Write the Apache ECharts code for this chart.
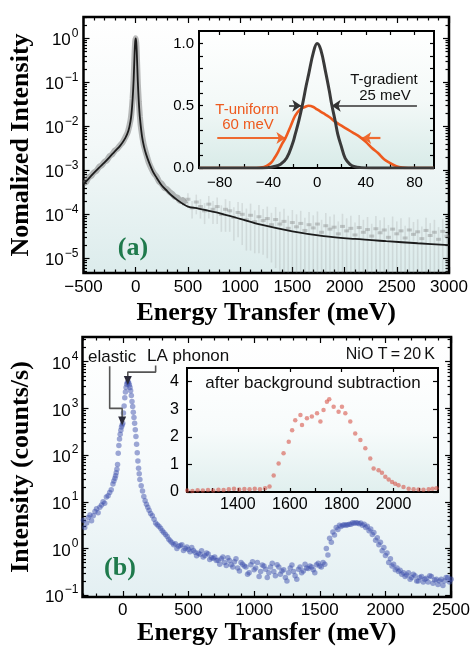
<!DOCTYPE html>
<html><head><meta charset="utf-8">
<script src="https://cdn.jsdelivr.net/npm/echarts@6/dist/echarts.min.js"></script>
<style>html,body{margin:0;padding:0;background:#fff}#c{width:473px;height:648px}</style>
</head><body><div id="c"></div>
<script>
// ---------- Panel (a): main log plot ----------
const fitE = [-500,-450,-400,-350,-300,-250,-200,-150,-100,-70,-50,-40,-30,-20,-10,-5,0,5,10,20,30,40,60,80,100,130,165,200,250,300,350,400,450,500,600,700,800,1000,1200,1500,1800,2100,2400,2700,3000];
const fitI = [4.8e-4,6.5e-4,8.7e-4,1.15e-3,1.5e-3,2.0e-3,2.7e-3,3.6e-3,5.4e-3,7.9e-3,1.3e-2,2.0e-2,4.0e-2,0.11,0.5,0.83,1.0,0.83,0.5,0.107,0.035,0.016,6.0e-3,3.4e-3,2.3e-3,1.45e-3,9.3e-4,6.8e-4,4.5e-4,3.4e-4,2.6e-4,2.1e-4,1.74e-4,1.5e-4,1.35e-4,1.2e-4,1.07e-4,7.9e-5,5.8e-5,4.1e-5,3.2e-5,2.75e-5,2.45e-5,2.2e-5,2.0e-5];
const nearE = [-500,-475,-450,-425,-400,-375,-350,-325,-300,-275,-250,-225,-200,-175,-150,-125,-100,-75,-50,-40,-30,-20,-10,-5,0,5,10,20,30,40,50,75,100,125,150,175,200,225,250,275,300,325,350,375,400,425,450,475];
const nearI = [5.0e-4,5.4e-4,6.9e-4,7.5e-4,9.0e-4,9.8e-4,1.2e-3,1.3e-3,1.55e-3,1.7e-3,2.1e-3,2.3e-3,2.8e-3,3.1e-3,3.7e-3,4.3e-3,5.6e-3,7.5e-3,1.35e-2,2.1e-2,4.2e-2,0.12,0.52,0.85,1.0,0.8,0.48,0.1,0.036,0.017,9.5e-3,4.0e-3,2.4e-3,1.5e-3,1.1e-3,8.5e-4,7.2e-4,5.5e-4,4.9e-4,4.0e-4,3.7e-4,3.2e-4,2.9e-4,2.5e-4,2.4e-4,2.0e-4,2.1e-4,1.7e-4];
const tailE = [500,540,580,620,660,700,740,780,820,860,900,940,980,1020,1060,1100,1140,1180,1220,1260,1300,1340,1380,1420,1460,1500,1540,1580,1620,1660,1700,1740,1780,1820,1860,1900,1940,1980,2020,2060,2100,2140,2180,2220,2260,2300,2340,2380,2420,2460,2500,2540,2580,2620,2660,2700,2740,2780,2820,2860,2900,2940,2980];
const tailI = [2.2e-4,1.4e-4,1.9e-4,1.5e-4,1.2e-4,1.7e-4,1.3e-4,1.5e-4,1.0e-4,1.3e-4,1.2e-4,8.5e-5,1.1e-4,
  1.0e-4,7.5e-5,9.5e-5,6.8e-5,8.8e-5,7.2e-5,8.0e-5,5.8e-5,7.6e-5,6.0e-5,6.9e-5,4.8e-5,6.5e-5,
  5.2e-5,6.2e-5,4.3e-5,5.8e-5,4.9e-5,6.0e-5,3.9e-5,5.5e-5,4.6e-5,5.1e-5,3.6e-5,5.3e-5,4.2e-5,
  4.8e-5,3.4e-5,5.0e-5,3.9e-5,4.5e-5,3.2e-5,4.7e-5,3.8e-5,4.4e-5,3.0e-5,4.6e-5,3.6e-5,4.2e-5,
  2.9e-5,4.4e-5,3.5e-5,4.0e-5,2.8e-5,4.3e-5,3.3e-5,3.9e-5,2.7e-5,4.1e-5,3.2e-5];
const tailErr = [0.8e-4,0.6e-4,0.9e-4,0.7e-4,0.6e-4,0.9e-4,0.7e-4,0.9e-4,0.6e-4,0.9e-4,0.8e-4,0.6e-4,0.8e-4,
  0.8e-4,0.6e-4,0.8e-4,0.55e-4,0.75e-4,0.6e-4,0.7e-4,0.5e-4,0.7e-4,0.55e-4,0.65e-4,0.45e-4,0.6e-4,
  0.48e-4,0.58e-4,0.4e-4,0.55e-4,0.46e-4,0.56e-4,0.36e-4,0.52e-4,0.43e-4,0.48e-4,0.33e-4,0.5e-4,0.39e-4,
  0.45e-4,0.31e-4,0.47e-4,0.36e-4,0.42e-4,0.29e-4,0.44e-4,0.35e-4,0.41e-4,0.27e-4,0.43e-4,0.33e-4,0.39e-4,
  0.26e-4,0.41e-4,0.32e-4,0.37e-4,0.25e-4,0.40e-4,0.30e-4,0.36e-4,0.24e-4,0.38e-4,0.29e-4];
const aXTickLabels = [-500,0,500,1000,1500,2000,2500,3000];
const aYTickLabels = [-5,-4,-3,-2,-1,0]; // exponents

// ---------- Panel (a) inset ----------
const gradE = [-97,-60,-45,-40,-36,-30,-25,-20,-18,-15,-12,-9,-7,-3,0,3,7,10,12,15,17,20,23,27,31,36,45,60,96];
const gradV = [0,0,0,0.003,0.01,0.03,0.08,0.2,0.27,0.38,0.51,0.66,0.75,0.93,1.0,0.95,0.77,0.62,0.51,0.37,0.27,0.17,0.08,0.03,0.01,0.003,0,0,0];
const unifE = [-97,-60,-50,-45,-42,-38,-35,-32,-29,-26,-22,-18,-14,-10,-7,-3,0,5,10,15,20,25,30,35,40,45,50,55,60,65,70,75,85,96];
const unifV = [0,0,0,0.005,0.015,0.04,0.08,0.13,0.19,0.24,0.33,0.42,0.47,0.49,0.5,0.49,0.47,0.44,0.41,0.37,0.34,0.31,0.28,0.25,0.21,0.16,0.12,0.07,0.04,0.015,0.003,0,0,0];
const insetAXLabels = [-80,-40,0,40,80];
const insetAYLabels = [0,0.5,1.0];

// ---------- Panel (b): main log plot ----------
const blueE = [-300,-275,-250,-225,-200,-175,-150,-125,-100,-75,
  -60,-50,-40,-30,-20,-10,0,10,20,30,
  40,50,60,70,80,90,100,110,120,130,
  140,160,180,200,225,250,275,300,325,350,
  375,400,425,450,475,500,525,550,575,600,
  625,650,675,700,725,750,775,800,825,850,
  875,900,925,950,975,1000,1025,1050,1075,1100,
  1125,1150,1175,1200,1225,1250,1275,1300,1325,1350,
  1375,1400,1425,1450,1475,1500,1525,1550,1575,1600,
  1625,1650,1675,1700,1725,1750,1775,1800,1825,1850,
  1875,1900,1925,1950,1975,2000,2025,2050,2075,2100,
  2125,2150,2175,2200,2225,2250,2275,2300,2325,2350,
  2375,2400,2425,2450,2475,2500];
const blueI = [4.0,3.5,5.2,5.0,7.1,7.6,10,12.6,15.8,24,
  32,42,63,160,280,400,480,1120,2240,3310,
  3720,3160,2400,1410,830,480,250,112,52,30,
  22,13,8.9,6.6,5.0,3.5,3.0,2.4,2.0,1.58,
  1.32,1.26,1.12,1.2,1.0,0.95,1.05,0.83,0.79,0.89,
  0.71,0.76,0.63,0.66,0.56,0.6,0.5,0.63,0.45,0.52,
  0.38,0.5,0.42,0.28,0.45,0.35,0.5,0.32,0.42,0.24,
  0.4,0.32,0.45,0.28,0.35,0.2,0.38,0.32,0.22,0.4,
  0.33,0.38,0.42,0.35,0.45,0.42,0.5,1.0,1.66,2.24,
  2.8,3.16,3.16,3.16,3.3,3.55,3.55,3.4,3.16,2.8,
  2.4,2.0,1.5,1.2,0.89,0.71,0.5,0.42,0.35,0.32,
  0.28,0.25,0.3,0.24,0.26,0.2,0.25,0.22,0.19,0.25,
  0.21,0.17,0.22,0.2,0.24,0.22];
const blue2E = [-290,-262,-238,-212,-188,-162,-138,-112,-88,-68,-55,-45,-35,-25,-15,-5,5,15,25,35,45,55,65,75,85,95,105,115,125,150,170,190,212,238,262,288,312,338,362,388,412,438,462,488,512,538,562,588,612,638,662,688,712,738,762,788,812,838,862,888,912,938,962,988,1012,1038,1062,1088,1112,1138,1162,1188,1212,1238,1262,1288,1312,1338,1362,1388,1412,1438,1462,1488,1512,1538,1562,1588,1612,1638,1662,1688,1712,1738,1762,1788,1812,1838,1862,1888,1912,1938,1962,1988,2012,2038,2062,2088,2112,2138,2162,2188,2212,2238,2262,2288,2312,2338,2362,2388,2412,2438,2462,2488];
const blue2I = [2.8,4.6,3.9,6.2,5.8,8.5,9.3,13.5,18,28,36,50,110,220,340,440,800,1700,2800,3600,3500,2800,1900,1100,640,350,170,75,40,17,10.5,7.6,5.6,4.2,3.2,2.7,2.2,1.8,1.45,1.2,1.0,1.15,0.9,1.08,0.85,0.9,0.7,0.75,0.66,0.8,0.58,0.62,0.55,0.46,0.66,0.43,0.55,0.4,0.6,0.33,0.46,0.4,0.3,0.52,0.38,0.25,0.44,0.36,0.3,0.48,0.26,0.4,0.33,0.24,0.3,0.44,0.26,0.36,0.3,0.46,0.37,0.4,0.3,0.48,0.4,0.46,0.72,1.35,1.95,2.55,2.95,3.2,3.2,3.3,3.45,3.5,3.5,3.3,3.0,2.6,2.2,1.7,1.35,1.05,0.8,0.6,0.46,0.38,0.34,0.3,0.27,0.22,0.28,0.2,0.24,0.19,0.23,0.26,0.18,0.22,0.2,0.16,0.24,0.19,0.21,0.18];
const elasticPath = [[-100,8000],[-100,1000],[-5,1000],[-5,540]];
const laPath = [[250,8300],[250,6000],[38,6000],[38,3950]];
const bXTickLabels = [0,500,1000,1500,2000,2500];
const bYTickLabels = [-1,0,1,2,3,4];

// ---------- Panel (b) inset ----------
const redE = [1205,1225,1245,1265,1285,1305,1325,1345,1365,1385,1405,1425,1445,1465,1485,1505,1522,1538,1557,1576,1596,1609,1621,1641,1647,1666,1685,1705,1718,1730,1743,1752,1769,1788,1801,1814,1833,1852,1872,1891,1910,1923,1942,1955,1968,1981,1994,2006,2019,2038,2058,2077,2096,2115,2135,2150,2165];
const redI = [0.05,0.04,0.06,0.05,0.07,0.05,0.08,0.07,0.1,0.12,0.09,0.11,0.1,0.12,0.1,0.14,0.2,0.6,1.03,1.4,1.82,2.24,2.6,2.79,2.43,2.67,2.73,2.85,2.55,2.97,3.27,3.36,3.09,2.91,3.09,2.85,2.55,2.12,1.88,1.58,1.21,0.85,0.79,0.7,0.55,0.45,0.36,0.3,0.24,0.18,0.12,0.1,0.09,0.08,0.1,0.12,0.14];
const insetBXLabels = [1400,1600,1800,2000];
const insetBYLabels = [0,1,2,3,4];

// ---------- helpers ----------
const SANS = 'Liberation Sans', SERIF = 'Liberation Serif';
const lg = Math.log10;
const minus = v => (v < 0 ? '\u2212' + (-v) : '' + v);
const logFmt = v => '{b|10}{s|' + minus(Math.round(v)) + '}';
const logRich = {
  b: {fontSize: 17, fontFamily: SANS, color: '#000', lineHeight: 22, verticalAlign: 'bottom'},
  s: {fontSize: 12, fontFamily: SANS, color: '#000', lineHeight: 22, verticalAlign: 'top', padding: [0, 0, 0, 1]}
};
function range(a, b, step) { const r = []; for (let v = a; v <= b + 1e-9; v += step) r.push(Math.round(v * 1000) / 1000); return r; }
function logMinors(lo, hi) {
  const r = [];
  for (let n = Math.floor(lo) - 1; n <= Math.ceil(hi); n++) for (let k = 2; k <= 9; k++) { const v = n + lg(k); if (v > lo && v < hi) r.push(v); }
  return r;
}
const xAxes = [], yAxes = [];
function axisObj(g, pos, r, ticks, len, lab, z) {
  const o = {type: 'value', gridIndex: g, position: pos, min: r[0], max: r[1], z: z, offset: 0,
    axisLine: {show: false, onZero: false}, splitLine: {show: false}, minorTick: {show: false},
    axisTick: {show: ticks.length > 0, inside: true, length: len, customValues: ticks, lineStyle: {color: '#000', width: 1.2}},
    axisLabel: {show: false}};
  if (lab) {
    o.axisLabel = {show: true, customValues: lab.values, formatter: lab.fmt, margin: lab.margin, color: '#000',
      fontFamily: SANS, fontSize: lab.size, rich: lab.rich};
    if (lab.name) {
      o.name = lab.name; o.nameLocation = 'middle'; o.nameGap = lab.nameGap;
      o.nameTextStyle = {fontFamily: SERIF, fontWeight: 'bold', fontSize: 26, color: '#000'};
    }
  }
  return o;
}
function frame(g, xr, yr, xt, yt, xl, yl, z) {
  const xi = xAxes.length, yi = yAxes.length;
  xAxes.push(axisObj(g, 'bottom', xr, xt.maj, xt.len || 6, xl, z));
  if (xt.min) xAxes.push(axisObj(g, 'bottom', xr, xt.min, 3.5, null, z));
  xAxes.push(axisObj(g, 'top', xr, xt.top || xt.maj, xt.len || 6, null, z));
  if (xt.min && !xt.top) xAxes.push(axisObj(g, 'top', xr, xt.min, 3.5, null, z));
  yAxes.push(axisObj(g, 'left', yr, yt.maj, yt.len || 6, yl, z));
  if (yt.min) yAxes.push(axisObj(g, 'left', yr, yt.min, 3.5, null, z));
  yAxes.push(axisObj(g, 'right', yr, yt.maj, yt.len || 6, null, z));
  if (yt.min) yAxes.push(axisObj(g, 'right', yr, yt.min, 3.5, null, z));
  return {xi, yi};
}
const bg = (c1, c2, c3) => ({type: 'linear', x: 0, y: 0, x2: 0, y2: 1,
  colorStops: [{offset: 0, color: c1}, {offset: 0.5, color: c2}, {offset: 1, color: c3}]});

const grids = [
  {left: 82, top: 17, width: 367, height: 256, show: true, borderColor: '#000', borderWidth: 2.5, backgroundColor: bg('#ffffff', '#f3f8f8', '#dcecec'), z: 0},
  {left: 199, top: 31, width: 235, height: 137, show: true, borderColor: '#000', borderWidth: 2, backgroundColor: bg('#ffffff', '#f4f9f8', '#d8ebe8'), z: 5},
  {left: 79, top: 337, width: 374, height: 260, show: true, borderColor: '#000', borderWidth: 2.5, backgroundColor: bg('#ffffff', '#f6fafb', '#e3eff2'), z: 0},
  {left: 187, top: 368, width: 251, height: 124, show: true, borderColor: '#000', borderWidth: 2, backgroundColor: bg('#ffffff', '#f7fbfb', '#e0efee'), z: 5}
];

const aYR = [-5.334, 0.484];
const A = frame(0, [-500, 3000], aYR,
  {maj: range(-500, 3000, 500), min: range(-500, 3000, 100).filter(v => v % 500 !== 0)},
  {maj: range(-5, 0, 1), min: logMinors(aYR[0], aYR[1])},
  {values: aXTickLabels, fmt: minus, margin: 6, size: 17, name: 'Energy Transfer (meV)', nameGap: 27},
  {values: aYTickLabels, fmt: logFmt, margin: 5, size: 17, rich: logRich, name: 'Nomalized Intensity', nameGap: 48}, 1);
const AI = frame(1, [-97, 96], [0, 1.1],
  {maj: range(-80, 80, 20), len: 4},
  {maj: range(0, 1.0, 0.1), len: 4},
  {values: insetAXLabels, fmt: minus, margin: 7, size: 15},
  {values: insetAYLabels, fmt: v => v.toFixed(1), margin: 5, size: 15}, 6);
const bYR = [-1.04, 4.53];
const B = frame(2, [-307, 2500], bYR,
  {maj: range(0, 2500, 500), min: range(-300, 2500, 100).filter(v => v % 500 !== 0)},
  {maj: range(-1, 4, 1), min: logMinors(bYR[0], bYR[1])},
  {values: bXTickLabels, fmt: minus, margin: 5, size: 17, name: 'Energy Transfer (meV)', nameGap: 23},
  {values: bYTickLabels, fmt: logFmt, margin: 4, size: 17, rich: logRich, name: 'Intensity (counts/s)', nameGap: 45}, 1);
const BI = frame(3, [1204, 2171], [0, 4.49],
  {maj: range(1300, 2100, 100), top: range(1400, 2000, 200), len: 4},
  {maj: range(0, 4, 1), len: 5},
  {values: insetBXLabels, fmt: minus, margin: 5, size: 16},
  {values: insetBYLabels, fmt: v => '' + v, margin: 8, size: 16}, 6);

const toLog = (E, I) => E.map((e, i) => [e, lg(I[i])]);
const pairs = (E, V) => E.map((e, i) => [e, V[i]]);
const arrowPath = (P, color, z, xi, yi) => ({
  type: 'line', xAxisIndex: xi, yAxisIndex: yi, z: z, silent: true,
  data: P.map((p, i) => i === P.length - 1
    ? {value: [p[0], lg(p[1])], symbol: 'triangle', symbolRotate: 180, symbolSize: [8, 9], itemStyle: {color: '#2a2a3a'}}
    : {value: [p[0], lg(p[1])], symbol: 'none'}),
  lineStyle: {color: color, width: 1.6}, showSymbol: true, symbol: 'none'
});
const blueStyle = {color: 'rgba(60,78,172,0.62)'};

const series = [
  {type: 'line', xAxisIndex: A.xi, yAxisIndex: A.yi, data: toLog(nearE, nearI), showSymbol: false, smooth: 0.2,
    lineStyle: {color: 'rgba(105,105,105,0.45)', width: 6}, z: 2},
  {type: 'custom', xAxisIndex: A.xi, yAxisIndex: A.yi, z: 2,
    data: tailE.map((e, i) => [e, tailI[i] - tailErr[i] > 4.7e-6 ? lg(tailI[i] - tailErr[i]) : aYR[0], lg(tailI[i] + tailErr[i])]),
    encode: {x: 0, y: [1, 2]},
    renderItem: (params, api) => {
      const p1 = api.coord([api.value(0), api.value(1)]), p2 = api.coord([api.value(0), api.value(2)]);
      return {type: 'line', shape: {x1: p1[0], y1: p1[1], x2: p2[0], y2: p2[1]}, style: {stroke: 'rgba(135,135,135,0.2)', lineWidth: 1.6}};
    }},
  {type: 'scatter', xAxisIndex: A.xi, yAxisIndex: A.yi, data: toLog(tailE, tailI), symbol: 'rect', symbolSize: [5, 3],
    itemStyle: {color: 'rgba(120,120,120,0.45)'}, z: 3},
  {type: 'line', xAxisIndex: A.xi, yAxisIndex: A.yi, data: toLog(fitE, fitI), showSymbol: false, smooth: 0.3,
    lineStyle: {color: '#1c1c1c', width: 1.8}, z: 4},
  {type: 'line', xAxisIndex: AI.xi, yAxisIndex: AI.yi, data: pairs(unifE, unifV), showSymbol: false, smooth: 0.4,
    lineStyle: {color: '#ee5a1e', width: 2.6}, z: 7,
    markLine: {silent: true, symbol: ['none', 'arrow'], symbolSize: 9, label: {show: false},
      lineStyle: {color: '#ee6a30', width: 2.2, type: 'solid'},
      data: [[{coord: [-82, 0.24]}, {coord: [-26, 0.24]}], [{coord: [52, 0.24]}, {coord: [37, 0.24]}]]}},
  {type: 'line', xAxisIndex: AI.xi, yAxisIndex: AI.yi, data: pairs(gradE, gradV), showSymbol: false, smooth: 0.4,
    lineStyle: {color: '#3a3a3a', width: 3}, z: 8,
    markLine: {silent: true, symbol: ['none', 'arrow'], symbolSize: 9, label: {show: false},
      lineStyle: {color: '#333', width: 1.6, type: 'solid'},
      data: [[{coord: [-23, 0.5]}, {coord: [-13, 0.5]}], [{coord: [82, 0.5]}, {coord: [12, 0.5]}]]}},
  {type: 'scatter', xAxisIndex: B.xi, yAxisIndex: B.yi, data: toLog(blueE, blueI), symbol: 'circle', symbolSize: 5.5,
    itemStyle: blueStyle, z: 3},
  {type: 'scatter', xAxisIndex: B.xi, yAxisIndex: B.yi, data: toLog(blue2E, blue2I), symbol: 'circle', symbolSize: 5.5,
    itemStyle: blueStyle, z: 3},
  arrowPath(elasticPath, '#555', 4, B.xi, B.yi),
  arrowPath(laPath, '#555', 4, B.xi, B.yi),
  {type: 'scatter', xAxisIndex: BI.xi, yAxisIndex: BI.yi, data: pairs(redE, redI), symbol: 'circle', symbolSize: 4.5,
    itemStyle: {color: 'rgba(214,78,66,0.72)'}, z: 7}
];

const txt = (x, y, text, o) => Object.assign({type: 'text', x: x, y: y, z: 100,
  style: Object.assign({text: text, fill: '#111', font: '15px "Liberation Sans"', align: 'center', verticalAlign: 'middle'}, o || {})});
const graphics = [
  txt(133, 248, '(a)', {fill: '#1f7a4c', font: 'bold 26px "Liberation Serif"'}),
  txt(120, 568, '(b)', {fill: '#1f7a4c', font: 'bold 26px "Liberation Serif"'}),
  txt(384, 80, 'T-gradient'),
  txt(385, 96, '25 meV'),
  txt(247, 110, 'T-uniform', {fill: '#ee5a1e'}),
  txt(248, 125, '60 meV', {fill: '#ee5a1e'}),
  txt(88, 357, 'elastic', {align: 'left', font: '17px "Liberation Sans"'}),
  txt(147, 356, 'LA phonon', {align: 'left', font: '17px "Liberation Sans"'}),
  txt(435, 355, 'NiO T\u2009=\u200920\u2009K', {align: 'right', font: '16px "Liberation Sans"'}),
  txt(313, 383, 'after background subtraction', {font: '17px "Liberation Sans"'})
];

const chart = echarts.init(document.getElementById('c'), null, {renderer: 'canvas'});
chart.setOption({animation: false, backgroundColor: '#fff', grid: grids, xAxis: xAxes, yAxis: yAxes, series: series, graphic: graphics});
</script></body></html>
